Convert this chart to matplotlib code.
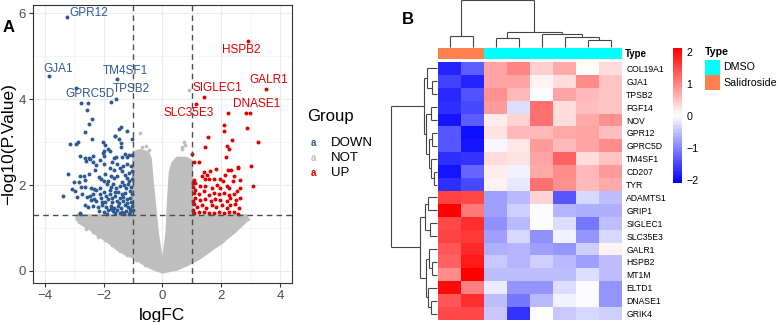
import numpy as np
import matplotlib
matplotlib.use("Agg")
import matplotlib.pyplot as plt
from matplotlib.colors import LinearSegmentedColormap, ListedColormap
from matplotlib.collections import LineCollection
from matplotlib.patches import Rectangle

plt.rcParams["font.family"] = ["Liberation Sans", "DejaVu Sans"]

W, H = 777, 322

# ---------------- panel A: volcano data (logFC, -log10 P) ----------------
down_pts = [
    (-3.25, 5.90), (-3.87, 4.53), (-1.54, 4.47), (-2.95, 4.25), (-1.59, 4.00), (-1.74, 3.94),
    (-2.76, 3.91), (-2.53, 3.91), (-2.57, 3.75), (-2.40, 3.53), (-2.51, 3.43), (-1.42, 3.35),
    (-1.47, 3.31), (-2.63, 3.23), (-1.20, 3.26), (-1.60, 3.14), (-2.40, 3.08), (-1.48, 3.08),
    (-1.02, 3.06), (-2.88, 3.01), (-2.94, 2.95), (-3.14, 2.95), (-2.02, 2.99), (-1.94, 2.93),
    (-1.40, 2.88), (-1.84, 2.83), (-1.78, 2.80), (-1.99, 2.80), (-2.01, 2.74), (-1.29, 2.73),
    (-1.13, 2.71), (-1.05, 2.71), (-2.82, 2.68), (-2.50, 2.63), (-2.35, 2.67), (-2.62, 2.62),
    (-1.21, 2.65), (-1.64, 2.64), (-1.42, 2.97), (-1.62, 3.15),
    (-2.46, 2.60), (-2.59, 2.57), (-2.37, 2.54), (-1.98, 2.67), (-1.58, 2.66), (-1.39, 2.66),
    (-2.13, 2.58), (-1.99, 2.48), (-2.25, 2.47), (-2.28, 2.35), (-1.71, 2.53), (-1.53, 2.50),
    (-1.46, 2.40), (-1.33, 2.44), (-1.21, 2.50), (-1.08, 2.44), (-1.64, 2.35), (-1.80, 2.39),
    (-1.39, 2.33), (-3.21, 2.26), (-2.80, 2.22), (-2.68, 2.20), (-2.50, 2.26), (-2.16, 2.18),
    (-2.10, 2.14), (-2.00, 2.10), (-2.62, 2.12), (-2.85, 2.08), (-3.00, 2.08), (-1.65, 2.16),
    (-1.54, 2.21), (-1.29, 2.23), (-1.13, 2.27), (-1.19, 2.16), (-1.05, 2.33), (-1.90, 2.02),
    (-1.76, 1.96), (-1.68, 2.02), (-1.46, 1.98), (-1.32, 2.00), (-1.18, 2.02), (-1.06, 1.96),
    (-3.07, 1.90), (-2.96, 1.86), (-2.76, 1.96), (-2.64, 1.95), (-2.42, 1.92), (-2.32, 1.91),
    (-2.13, 1.92), (-3.39, 1.75), (-2.92, 1.73), (-2.72, 1.79), (-2.47, 1.75), (-2.36, 1.78),
    (-2.14, 1.78), (-1.99, 1.83), (-1.92, 1.75), (-1.79, 1.79), (-1.62, 1.83), (-1.50, 1.84),
    (-1.39, 1.79), (-1.26, 1.81), (-1.12, 1.86), (-1.05, 1.78), (-2.44, 1.65), (-2.33, 1.67),
    (-2.10, 1.69), (-1.97, 1.61), (-1.84, 1.67), (-1.71, 1.69), (-1.56, 1.64), (-1.45, 1.69),
    (-1.33, 1.64), (-1.20, 1.67), (-1.08, 1.61), (-2.64, 1.53), (-2.52, 1.50), (-2.36, 1.52),
    (-2.18, 1.50), (-2.04, 1.53), (-1.92, 1.48), (-1.76, 1.52), (-1.65, 1.47), (-1.52, 1.52),
    (-1.40, 1.47), (-1.29, 1.53), (-1.16, 1.49), (-1.05, 1.52), (-2.16, 1.40), (-1.99, 1.38),
    (-1.85, 1.41), (-1.68, 1.39), (-1.54, 1.42), (-1.39, 1.38), (-1.25, 1.40), (-1.12, 1.37),
    (-1.01, 1.41), (-2.79, 1.32), (-1.14, 1.33), (-2.81, 1.36),
    (-1.10, 1.70), (-1.25, 1.92), (-1.35, 1.72), (-1.15, 2.10), (-1.48, 1.58), (-1.60, 1.75),
    (-1.02, 2.15), (-1.22, 1.58), (-1.38, 2.08), (-1.58, 1.92), (-1.72, 1.60), (-1.80, 1.88),
    (-1.10, 1.45), (-1.30, 1.34), (-1.45, 1.35), (-1.60, 1.34), (-1.75, 1.45), (-1.90, 1.32),
    (-2.05, 1.60), (-2.25, 1.62), (-2.55, 1.72), (-2.25, 1.88), (-1.95, 2.25), (-1.75, 2.22),
    (-1.85, 2.10),
]
up_pts = [
    (2.90, 5.35), (3.50, 4.24), (1.40, 4.05), (2.85, 3.67), (2.96, 3.68), (1.14, 3.88),
    (2.23, 3.67), (2.09, 3.40), (2.08, 3.26), (2.88, 3.33), (1.55, 3.12), (2.37, 3.04),
    (1.43, 2.88), (2.20, 2.91), (2.26, 2.85), (3.23, 2.99), (1.01, 2.72), (2.15, 2.65),
    (1.06, 2.54), (1.23, 2.53), (3.01, 2.45), (2.58, 2.39), (2.23, 2.35), (2.33, 2.35),
    (1.83, 2.37), (1.63, 2.33), (1.40, 2.31), (1.35, 2.22), (1.52, 2.23), (2.14, 2.23),
    (2.42, 2.22), (1.06, 2.12), (1.10, 2.04), (1.43, 2.13), (1.57, 2.14), (1.74, 2.14),
    (1.94, 2.14), (2.06, 2.10), (2.40, 2.09), (2.65, 2.12), (3.06, 1.98), (1.29, 1.98),
    (1.46, 1.98), (1.68, 1.92), (1.85, 2.00), (1.97, 1.92), (2.25, 1.92), (2.19, 1.98),
    (2.62, 1.92), (1.12, 1.88), (1.06, 1.81), (1.23, 1.79), (1.40, 1.85), (1.57, 1.77),
    (1.74, 1.81), (1.91, 1.78), (2.08, 1.82), (2.25, 1.77), (2.42, 1.78), (2.53, 1.86),
    (1.12, 1.69), (1.29, 1.65), (1.46, 1.67), (1.65, 1.63), (1.80, 1.67), (1.97, 1.65),
    (2.19, 1.63), (2.31, 1.69), (2.51, 1.65), (2.62, 1.70), (1.08, 1.55), (1.18, 1.50),
    (1.35, 1.53), (1.49, 1.47), (1.68, 1.53), (1.83, 1.48), (2.02, 1.53), (2.19, 1.47),
    (2.31, 1.53), (2.47, 1.55), (2.59, 1.46), (1.23, 1.37), (1.40, 1.38), (1.57, 1.34),
    (1.74, 1.36), (1.91, 1.38), (2.08, 1.34), (2.25, 1.37), (2.42, 1.38), (2.55, 1.33),
    (1.06, 1.34), (2.55, 2.41), (1.04, 2.05), (1.03, 1.95), (1.02, 1.62), (1.05, 1.43),
]
# scattered non-significant genes outside the dense cloud
not_pts = [
    (0.89, 4.21), (0.67, 2.89), (0.61, 2.62), (0.72, 3.01), (0.78, 2.93), (0.67, 2.85),
    (-0.75, 3.20), (-0.63, 2.74), (-0.46, 2.81), (-0.55, 2.90), (-0.70, 2.88),
    (-2.85, 1.15), (-2.56, 1.19), (-2.60, 0.98), (-2.35, 0.90), (-2.20, 0.80), (-1.95, 0.72),
    (-1.70, 0.60), (-1.45, 0.47), (-1.20, 0.38), (-0.90, 0.26), (-0.60, 0.15),
    (0.60, 0.12), (0.90, 0.22), (1.20, 0.32), (1.45, 0.44), (1.70, 0.57), (1.95, 0.68),
    (2.20, 0.82), (2.45, 0.96), (2.65, 1.08), (2.75, 1.15), (2.90, 1.21), (2.70, 1.22),
]
# outline of the dense cloud of non-significant genes
not_env = [
    (0.00, -0.02), (0.50, 0.05), (0.80, 0.14), (1.20, 0.28), (1.50, 0.42), (1.75, 0.55),
    (2.00, 0.66), (2.20, 0.78), (2.45, 0.92), (2.65, 1.05), (2.85, 1.18), (2.85, 1.28),
    (1.00, 1.28), (0.98, 2.55), (0.80, 2.62), (0.50, 2.62), (0.35, 2.50), (0.27, 2.30),
    (0.21, 1.65), (0.16, 0.90), (0.05, 0.30), (0.00, 0.22), (-0.05, 0.30), (-0.18, 0.88),
    (-0.29, 1.65), (-0.35, 2.05), (-0.42, 2.60), (-0.50, 2.75), (-0.75, 2.80), (-0.98, 2.75),
    (-0.98, 1.28), (-2.90, 1.28), (-2.90, 1.20), (-2.70, 1.08), (-2.45, 0.98), (-2.20, 0.84),
    (-2.00, 0.76), (-1.76, 0.64), (-1.50, 0.50), (-1.20, 0.38), (-0.98, 0.32), (-0.70, 0.20),
    (-0.40, 0.08),
]
label_genes = ["GPR12", "GJA1", "TM4SF1", "TPSB2", "GPRC5D",
               "HSPB2", "SIGLEC1", "GALR1", "DNASE1", "SLC35E3"]
label_group = ["DOWN"] * 5 + ["UP"] * 5
label_pos = [(-2.52, 6.01), (-3.56, 4.71), (-1.25, 4.65), (-1.06, 4.23), (-2.47, 4.11),
             (2.66, 5.14), (1.87, 4.25), (3.62, 4.44), (3.21, 3.88), (0.88, 3.67)]
groups = ["DOWN", "NOT", "UP"]

# ---------------- panel B: heatmap data ----------------
genes = ["COL19A1", "GJA1", "TPSB2", "FGF14", "NOV", "GPR12", "GPRC5D", "TM4SF1", "CD207", "TYR",
         "ADAMTS1", "GRIP1", "SIGLEC1", "SLC35E3", "GALR1", "HSPB2", "MT1M", "ELTD1", "DNASE1", "GRIK4"]
sample_type = ["Salidroside", "Salidroside", "DMSO", "DMSO", "DMSO", "DMSO", "DMSO", "DMSO"]
zscores = [
    [-1.80, -1.30, 0.75, 1.00, 0.40, 0.70, 0.05, 0.30],
    [-1.55, -1.80, 0.75, 0.75, 0.10, 0.30, 0.95, 0.50],
    [-1.75, -1.40, 0.90, 0.60, 0.00, 0.75, 0.60, 0.50],
    [-1.70, -1.50, 0.85, -0.25, 1.15, 0.30, 0.55, 0.50],
    [-1.90, -1.30, 0.15, 0.35, 1.15, 0.30, 0.70, 0.90],
    [-1.35, -1.95, 0.25, 0.60, 0.60, 0.70, 0.75, 0.55],
    [-1.35, -1.90, -0.05, 0.20, 0.85, 0.60, 0.75, 0.95],
    [-1.70, -1.65, 0.30, 0.25, 0.75, 1.30, 0.30, 0.50],
    [-1.90, -1.25, 0.15, -0.08, 0.70, 0.95, 0.60, 0.85],
    [-1.70, -1.50, 0.12, -0.20, 1.15, 0.90, 0.60, 0.70],
    [1.55, 1.50, -0.75, -0.55, 0.35, -1.35, -0.30, -0.50],
    [2.10, 1.10, -0.75, -0.40, -0.03, -0.60, -0.65, -0.65],
    [1.50, 1.70, -0.90, -0.55, 0.00, -0.25, -1.10, -0.50],
    [1.55, 1.65, -0.75, -0.30, -0.90, -0.10, -0.85, -0.30],
    [1.40, 1.75, -0.65, -0.60, -0.75, -0.85, -0.40, 0.10],
    [1.30, 1.90, -0.45, -0.60, -0.40, -0.55, -0.75, -0.50],
    [0.95, 2.10, -0.50, -0.50, -0.50, -0.50, -0.25, -0.50],
    [2.00, 1.05, -0.12, -0.85, -0.85, -0.25, -0.03, -0.85],
    [1.40, 1.70, -0.50, -1.10, -0.55, -0.10, -0.03, -0.85],
    [1.50, 1.50, -0.45, -1.65, 0.03, -0.45, -0.30, -0.40],
]
# dendrograms: (left, right, height), leaves are row/column indices
col_tree = ((0, 1, 11.3), ((2, 3, 9.7), (4, (5, (6, 7, 7.3), 10.3), 13.0), 15.7), 47.5)
row_top = ((0, (1, 2, 5.0), 10.5), ((3, 4, 6.0), ((5, 6, 5.5), (7, (8, 9, 3.5), 6.0), 8.0), 11.0), 13.0)
row_bot = (((10, 11, 9.0), (12, 13, 7.0), 12.0), ((14, (15, 16, 5.0), 8.0), (17, (18, 19, 6.0), 9.0), 11.0), 17.0)
row_tree = (row_top, row_bot, 46.0)

GREY = "#BEBEBE"
BLUE = "#2D5A94"
RED = "#E00000"
group_col = {"DOWN": BLUE, "NOT": GREY, "UP": RED}
type_col = {"DMSO": "#00FFFF", "Salidroside": "#FF7F50"}


def px_axes(fig, x0, y0, x1, y1):
    return fig.add_axes([x0 / W, 1 - y1 / H, (x1 - x0) / W, (y1 - y0) / H])


def dendro(node):
    if isinstance(node, int):
        return float(node), 0.0, []
    l, r, h = node
    pl, hl, sl = dendro(l)
    pr, hr, sr = dendro(r)
    segs = sl + sr + [[(pl, hl), (pl, h)], [(pr, hr), (pr, h)], [(pl, h), (pr, h)]]
    return (pl + pr) / 2, h, segs


fig = plt.figure(figsize=(7.77, 3.22), dpi=100)

# ---------------- panel A ----------------
ax = px_axes(fig, 33, 5, 292, 283)
ex, ey = zip(*not_env)
ax.fill(ex, ey, color=GREY, ec=GREY, lw=2.5, joinstyle="round", zorder=1)
nx, ny = zip(*not_pts)
ax.scatter(nx, ny, s=7, color=GREY, lw=0, zorder=2)
dx, dy = zip(*down_pts)
ax.scatter(dx, dy, s=8, color=BLUE, lw=0, zorder=3)
ux, uy = zip(*up_pts)
ax.scatter(ux, uy, s=8, color=RED, lw=0, zorder=3)
for v in (-1, 1):
    ax.axvline(v, color="#4D4D4D", lw=1, ls=(0, (4, 3)), zorder=4)
ax.axhline(-np.log10(0.05), color="#4D4D4D", lw=1, ls=(0, (4, 3)), zorder=4)

for g, grp, (tx, ty) in zip(label_genes, label_group, label_pos):
    ax.text(tx, ty, g, color=group_col[grp], fontsize=8.5, ha="center", va="center", zorder=5)

ax.set_xlim(-4.4, 4.4)
ax.set_ylim(-0.28, 6.19)
ax.set_xticks([-4, -2, 0, 2, 4])
ax.set_yticks([0, 2, 4, 6])
ax.set_xticks([-3, -1, 1, 3], minor=True)
ax.set_yticks([1, 3, 5], minor=True)
ax.grid(which="major", color="#EBEBEB", lw=0.8)
ax.grid(which="minor", color="#F2F2F2", lw=0.5)
ax.set_axisbelow(True)
ax.tick_params(which="major", labelsize=9.5, labelcolor="#4D4D4D", color="#333333",
               length=3, width=0.8, pad=2)
ax.tick_params(which="minor", length=0)
for s in ax.spines.values():
    s.set_color("#333333")
    s.set_linewidth(0.8)
ax.text(0.5, -0.118, "logFC", transform=ax.transAxes, fontsize=12.5, ha="center", va="center")
ax.text(-0.095, 0.5, "\u2212log10(P.Value)", transform=ax.transAxes, fontsize=12.5,
        rotation=90, ha="center", va="center")

fig.text(8.5 / W, 1 - 27 / H, "A", fontsize=12, fontweight="bold", ha="center", va="center")

fig.text(307 / W, 1 - 117 / H, "Group", fontsize=12, va="center")
for i, grp in enumerate(groups):
    yk = 143 + 15 * i
    fig.text(313 / W, 1 - yk / H, "a", color=group_col[grp], fontsize=7, fontweight="bold",
             ha="center", va="center")
    fig.text(331 / W, 1 - yk / H, grp, fontsize=9.5, va="center")

# ---------------- panel B ----------------
fig.text(408 / W, 1 - 20 / H, "B", fontsize=12, fontweight="bold", ha="center", va="center")

cmap = LinearSegmentedColormap.from_list("bwr_ph", ["#0000FF", "#FFFFFF", "#FF0000"], N=100)
hm = px_axes(fig, 438, 62, 622, 320)
im = hm.imshow(np.array(zscores), cmap=cmap, vmin=-2.1, vmax=2.12, aspect="auto",
               interpolation="nearest")
hm.set_xticks([])
hm.yaxis.tick_right()
hm.set_yticks(range(len(genes)))
hm.set_yticklabels(genes, fontsize=6.2)
hm.tick_params(length=0, pad=3)
for s in hm.spines.values():
    s.set_visible(False)

ann = px_axes(fig, 438, 48, 622, 59)
types = ["DMSO", "Salidroside"]
ann.imshow([[types.index(t) for t in sample_type]], cmap=ListedColormap([type_col[t] for t in types]),
           vmin=0, vmax=1, aspect="auto", interpolation="nearest")
ann.axis("off")
fig.text(625 / W, 1 - 54 / H, "Type", fontsize=7, fontweight="bold", va="center")

top = px_axes(fig, 438, 0, 622, 48)
_, _, segs = dendro(col_tree)
top.add_collection(LineCollection(segs, colors="#444444", linewidths=0.8))
top.set_xlim(-0.5, len(sample_type) - 0.5)
top.set_ylim(-1, 48)
top.axis("off")

left = px_axes(fig, 388, 62, 438, 320)
_, _, segs = dendro(row_tree)
segs = [[(h, p) for p, h in s] for s in segs]
left.add_collection(LineCollection(segs, colors="#444444", linewidths=0.8))
left.set_xlim(49, -1)
left.set_ylim(len(genes) - 0.5, -0.5)
left.axis("off")

cax = px_axes(fig, 673, 48, 682, 183)
cb = fig.colorbar(im, cax=cax, ticks=[-2, -1, 0, 1, 2])
cb.outline.set_visible(False)
cax.tick_params(length=0, labelsize=7.7, pad=3)

fig.text(705 / W, 1 - 52 / H, "Type", fontsize=7.7, fontweight="bold", va="center")
for i, t in enumerate(types):
    y0 = 60 + 15.3 * i
    fig.add_artist(Rectangle((705 / W, 1 - (y0 + 15) / H), 15 / W, 15 / H,
                             transform=fig.transFigure, fc=type_col[t], ec="none"))
    fig.text(723 / W, 1 - (y0 + 7.5) / H, t, fontsize=7.7, va="center")

fig.savefig("out.png", dpi=100, facecolor="white")
